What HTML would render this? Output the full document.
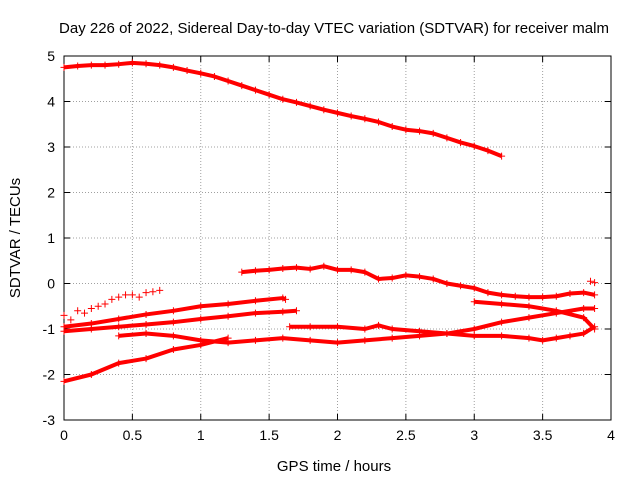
<!DOCTYPE html>
<html><head><meta charset="utf-8">
<style>
body{margin:0;background:#fff;}
svg{display:block;font-family:"Liberation Sans",sans-serif;}
</style></head>
<body>
<svg id="chart" width="640" height="480">
<text x="334" y="33" text-anchor="middle" font-size="15" fill="#000">Day 226 of 2022, Sidereal Day-to-day VTEC variation (SDTVAR) for receiver malm</text>
<text x="334" y="471" text-anchor="middle" font-size="15" fill="#000">GPS time / hours</text>
<text transform="translate(20,238) rotate(-90)" text-anchor="middle" font-size="15" fill="#000">SDTVAR / TECUs</text>
<g id="grid"></g><g id="axes"></g><g id="marks"></g>
</svg>
<script>
const xTicks=[0,0.5,1,1.5,2,2.5,3,3.5,4];
const xTickLabels=["0","0.5","1","1.5","2","2.5","3","3.5","4"];
const yTicks=[-3,-2,-1,0,1,2,3,4,5];
const yTickLabels=["-3","-2","-1","0","1","2","3","4","5"];
const track1=[[0,4.75],[0.1,4.78],[0.2,4.8],[0.3,4.8],[0.4,4.82],[0.5,4.85],[0.6,4.83],[0.7,4.8],[0.8,4.75],[0.9,4.68],[1.0,4.62],[1.1,4.55],[1.2,4.45],[1.3,4.35],[1.4,4.25],[1.5,4.15],[1.6,4.05],[1.7,3.98],[1.8,3.9],[1.9,3.82],[2.0,3.75],[2.1,3.68],[2.2,3.62],[2.3,3.55],[2.4,3.45],[2.5,3.38],[2.6,3.35],[2.7,3.3],[2.8,3.2],[2.9,3.1],[3.0,3.02],[3.1,2.92],[3.2,2.8]];
const track2=[[1.3,0.25],[1.4,0.28],[1.5,0.3],[1.6,0.33],[1.7,0.35],[1.8,0.32],[1.9,0.38],[2.0,0.3],[2.1,0.3],[2.2,0.25],[2.3,0.1],[2.4,0.12],[2.5,0.18],[2.6,0.15],[2.7,0.1],[2.8,0],[2.9,-0.05],[3.0,-0.1],[3.1,-0.2],[3.2,-0.25],[3.3,-0.28],[3.4,-0.3],[3.5,-0.3],[3.6,-0.28],[3.7,-0.22],[3.8,-0.2],[3.88,-0.25]];
const track3=[[0,-0.7],[0.05,-0.8],[0.1,-0.6],[0.15,-0.65],[0.2,-0.55],[0.25,-0.5],[0.3,-0.45],[0.35,-0.35],[0.4,-0.3],[0.45,-0.25],[0.5,-0.25],[0.55,-0.3],[0.6,-0.2],[0.65,-0.18],[0.7,-0.15]];
const track4=[[0,-0.95],[0.2,-0.88],[0.4,-0.78],[0.6,-0.68],[0.8,-0.6],[1.0,-0.5],[1.2,-0.45],[1.4,-0.38],[1.6,-0.32],[1.62,-0.35]];
const track5=[[0,-1.05],[0.2,-1.0],[0.4,-0.95],[0.6,-0.9],[0.8,-0.85],[1.0,-0.78],[1.2,-0.72],[1.4,-0.65],[1.6,-0.62],[1.7,-0.6]];
const track6=[[0,-2.15],[0.2,-2.0],[0.4,-1.75],[0.6,-1.65],[0.8,-1.45],[1.0,-1.35],[1.2,-1.2]];
const track7=[[0.4,-1.15],[0.6,-1.1],[0.8,-1.15],[1.0,-1.25],[1.2,-1.3],[1.4,-1.25],[1.6,-1.2],[1.8,-1.25],[2.0,-1.3],[2.2,-1.25],[2.4,-1.2],[2.6,-1.15],[2.8,-1.1],[3.0,-1.0],[3.2,-0.85],[3.4,-0.75],[3.6,-0.65],[3.8,-0.55],[3.88,-0.55]];
const track8=[[1.65,-0.95],[1.8,-0.95],[2.0,-0.95],[2.2,-1.0],[2.3,-0.92],[2.4,-1.0],[2.6,-1.05],[2.8,-1.1],[3.0,-1.15],[3.2,-1.15],[3.4,-1.2],[3.5,-1.25],[3.6,-1.2],[3.7,-1.15],[3.8,-1.1],[3.88,-0.95]];
const track9=[[3.0,-0.4],[3.2,-0.45],[3.4,-0.5],[3.6,-0.6],[3.8,-0.75],[3.88,-1.0]];
const track10=[[3.85,0.05],[3.88,0.02]];
const tracks=[track1,track2,track3,track4,track5,track6,track7,track8,track9,track10];
const connected=[true,true,false,true,true,true,true,true,true,false];

const L=64,R=611,T=56,B=420;
const sx=v=>L+(v-0)/(4-0)*(R-L);
const sy=v=>B-(v+3)/(5+3)*(B-T);
const NS="http://www.w3.org/2000/svg";
function mk(tag,attrs,parent){const e=document.createElementNS(NS,tag);for(const k in attrs)e.setAttribute(k,attrs[k]);parent.appendChild(e);return e;}
const grid=document.getElementById('grid'),axes=document.getElementById('axes'),marks=document.getElementById('marks');
xTicks.forEach((t,i)=>{
  const x=sx(t);
  if(i>0&&i<xTicks.length-1){const g=mk('line',{x1:x,x2:x,y1:T,y2:B,stroke:'#a0a0a0','stroke-dasharray':'1,2','stroke-width':1},grid);
  
  }
  mk('line',{x1:x,x2:x,y1:B,y2:B-6,stroke:'#000'},axes);
  mk('line',{x1:x,x2:x,y1:T,y2:T+6,stroke:'#000'},axes);
  const lb=mk('text',{x:x,y:B+20,'text-anchor':'middle','font-size':14},axes);lb.textContent=xTickLabels[i];
  
  
});
yTicks.forEach((t,i)=>{
  const y=sy(t);
  if(i>0&&i<yTicks.length-1){const g=mk('line',{x1:L,x2:R,y1:y,y2:y,stroke:'#a0a0a0','stroke-dasharray':'1,2','stroke-width':1},grid);
  
  }
  mk('line',{x1:L,x2:L+6,y1:y,y2:y,stroke:'#000'},axes);
  mk('line',{x1:R,x2:R-6,y1:y,y2:y,stroke:'#000'},axes);
  const lb=mk('text',{x:L-9,y:y+5,'text-anchor':'end','font-size':14},axes);lb.textContent=yTickLabels[i];
  
  
});
const frame=mk('rect',{x:L,y:T,width:R-L,height:B-T,fill:'none',stroke:'#000'},axes);


tracks.forEach((tr,k)=>{
  const g=mk('g',{},marks);
  
  
  if(connected[k]){
    mk('polyline',{points:tr.map(p=>sx(p[0])+','+sy(p[1])).join(' '),fill:'none',stroke:'#ff0000','stroke-width':4,'stroke-linejoin':'round'},g);
  }
  tr.forEach(p=>{
    const x=sx(p[0]),y=sy(p[1]);
    mk('path',{d:`M${x-3.5},${y}H${x+3.5}M${x},${y-3.5}V${y+3.5}`,stroke:'#ff0000','stroke-width':1},g);
  });
});
</script>
</body></html>
